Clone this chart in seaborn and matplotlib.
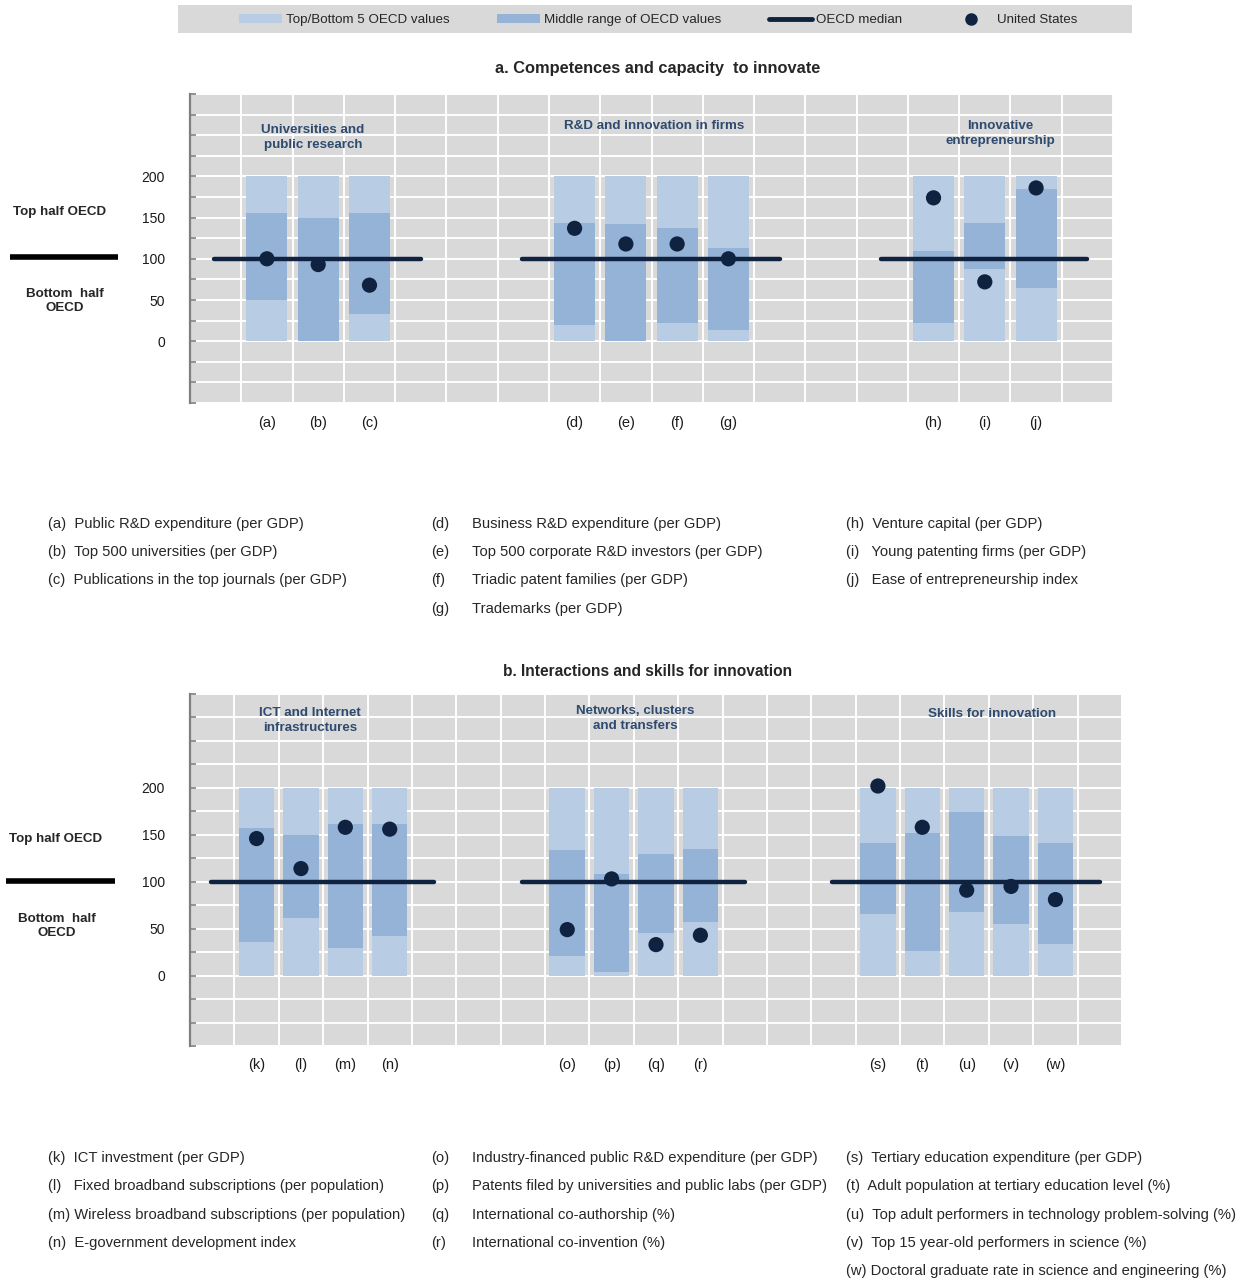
import numpy as np
import pandas as pd
import matplotlib
matplotlib.use("Agg")
import matplotlib.pyplot as plt
import matplotlib.transforms as mtransforms
from matplotlib.patches import Patch, Rectangle
from matplotlib.lines import Line2D
import seaborn as sns

# ---------------- data ----------------
# Panel a: competences and capacity to innovate
codes_a = ["a", "b", "c", "d", "e", "f", "g", "h", "i", "j"]
group_sizes_a = [3, 4, 3]
group_titles_a = ["Universities and\npublic research",
                  "R&D and innovation in firms",
                  "Innovative\nentrepreneurship"]
mid_low_a = [50, 0, 33, 20, 0, 22, 13, 22, 88, 65]
mid_high_a = [156, 150, 156, 144, 142, 137, 113, 109, 144, 185]
us_a = [100, 93, 68, 137, 118, 118, 100, 174, 72, 186]

notes_a_col1 = ["(a)  Public R&D expenditure (per GDP)",
                "(b)  Top 500 universities (per GDP)",
                "(c)  Publications in the top journals (per GDP)"]
notes_a_col2_codes = ["(d)", "(e)", "(f)", "(g)"]
notes_a_col2 = ["Business R&D expenditure (per GDP)",
                "Top 500 corporate R&D investors (per GDP)",
                "Triadic patent families (per GDP)",
                "Trademarks (per GDP)"]
notes_a_col3 = ["(h)  Venture capital (per GDP)",
                "(i)   Young patenting firms (per GDP)",
                "(j)   Ease of entrepreneurship index"]

# Panel b: interactions and skills for innovation
codes_b = ["k", "l", "m", "n", "o", "p", "q", "r", "s", "t", "u", "v", "w"]
group_sizes_b = [4, 4, 5]
group_titles_b = ["ICT and Internet\ninfrastructures",
                  "Networks, clusters\nand transfers",
                  "Skills for innovation"]
mid_low_b = [36, 61, 29, 42, 21, 4, 45, 57, 66, 26, 68, 55, 34]
mid_high_b = [157, 150, 162, 162, 134, 108, 130, 135, 141, 152, 174, 149, 141]
us_b = [146, 114, 158, 156, 49, 103, 33, 43, 202, 158, 91, 95, 81]

notes_b_col1 = ["(k)  ICT investment (per GDP)",
                "(l)   Fixed broadband subscriptions (per population)",
                "(m) Wireless broadband subscriptions (per population)",
                "(n)  E-government development index"]
notes_b_col2_codes = ["(o)", "(p)", "(q)", "(r)"]
notes_b_col2 = ["Industry-financed public R&D expenditure (per GDP)",
                "Patents filed by universities and public labs (per GDP)",
                "International co-authorship (%)",
                "International co-invention (%)"]
notes_b_col3 = ["(s)  Tertiary education expenditure (per GDP)",
                "(t)  Adult population at tertiary education level (%)",
                "(u)  Top adult performers in technology problem-solving (%)",
                "(v)  Top 15 year-old performers in science (%)",
                "(w) Doctoral graduate rate in science and engineering (%)"]

RANGE_TOP = 200      # top of the OECD range (normalised)
OECD_MEDIAN = 100    # normalised OECD median
Y_TICK_LABELS = [0, 50, 100, 150, 200]

# ---------------- style ----------------
LIGHT = "#b8cce4"
MID = "#95b3d7"
NAVY = "#0f2341"
BG = "#d9d9d9"
TITLE_BLUE = "#2e4a6e"
NARROW = ["Liberation Sans Narrow", "Liberation Sans", "DejaVu Sans"]
REGULAR = ["Liberation Sans", "DejaVu Sans"]

sns.set_theme(style="darkgrid")
plt.rcParams["font.family"] = NARROW

W, H = 1250, 1280
fig = plt.figure(figsize=(W / 100, H / 100), dpi=100)


def fx(px):
    return px / W


def fy(py):
    return 1 - py / H


def positions(sizes, gap=3, start=1):
    """Column centres for grouped items, leaving empty columns between groups."""
    pos, col, spans = [], start, []
    for n in sizes:
        first = col
        for _ in range(n):
            pos.append(col + 0.5)
            col += 1
        spans.append((first + 0.5, col - 0.5))
        col += gap
    return pos, spans, col - gap + 1


def draw_panel(rect, codes, sizes, titles, lows, highs, us, title_xoff, title_y,
               side_y):
    ax = fig.add_axes(rect)
    pos, spans, ncols = positions(sizes)
    df = pd.DataFrame({"code": [f"({c})" for c in codes], "x": pos,
                       "low": lows, "high": highs, "us": us})
    ax.set_facecolor(BG)
    # full OECD range (top/bottom 5) and middle range
    ax.bar(df["x"], RANGE_TOP, width=0.8, color=LIGHT, zorder=2, linewidth=0)
    ax.bar(df["x"], df["high"] - df["low"], bottom=df["low"], width=0.8,
           color=MID, zorder=3, linewidth=0)
    # OECD median per group
    for (a, b) in spans:
        ax.hlines(OECD_MEDIAN, a - 1.03, b + 1.0, color=NAVY, lw=3.2,
                  capstyle="round", zorder=4)
    # United States
    sns.scatterplot(data=df, x="x", y="us", ax=ax, color=NAVY, s=120,
                    edgecolor="none", zorder=5, legend=False)
    ax.set_xlim(0, ncols)
    ax.set_ylim(-75, 300)
    ax.set_xticks(df["x"])
    ax.set_xticklabels(df["code"], fontsize=10.5, color="#1a1a1a")
    ax.set_xticks(np.arange(0, ncols + 1), minor=True)
    yt = np.arange(-75, 301, 25)
    ax.set_yticks(yt)
    ax.set_yticklabels([str(v) if v in Y_TICK_LABELS else "" for v in yt],
                       fontsize=10, color="#1a1a1a")
    ax.tick_params(axis="x", which="both", length=0, pad=9)
    ax.tick_params(axis="y", which="major", direction="in", length=4,
                   color="#7f7f7f", width=1.2, pad=18, left=True)
    ax.grid(False)
    ax.grid(True, axis="y", which="major", color="white", lw=1.4, zorder=0)
    ax.grid(True, axis="x", which="minor", color="white", lw=1.4, zorder=0)
    ax.set_axisbelow(True)
    for s in ["top", "right", "bottom"]:
        ax.spines[s].set_visible(False)
    ax.spines["left"].set_visible(True)
    ax.spines["left"].set_color("#7f7f7f")
    ax.spines["left"].set_linewidth(1.6)
    ax.set_xlabel("")
    ax.set_ylabel("")
    # group headings
    for (a, b), t, dx, ty in zip(spans, titles, title_xoff, title_y):
        ax.text((a + b) / 2 + dx, ty, t, ha="center", va="center",
                fontsize=9.6, fontweight="bold", color=TITLE_BLUE,
                linespacing=1.3, zorder=6)
    # top / bottom half markers on the left
    tr = mtransforms.blended_transform_factory(fig.transFigure, ax.transData)
    (x_top, y_top), (x0, x1, y_line), (x_bot, y_bot) = side_y
    ax.text(fx(x_top), y_top, "Top half OECD", transform=tr, ha="center",
            va="center", fontsize=9.6, fontweight="bold", clip_on=False)
    ax.add_line(Line2D([fx(x0), fx(x1)], [y_line, y_line], transform=tr,
                       color="black", lw=4, clip_on=False, solid_capstyle="butt"))
    ax.text(fx(x_bot), y_bot, "Bottom  half\nOECD", transform=tr, ha="center",
            va="center", fontsize=9.6, fontweight="bold", clip_on=False,
            linespacing=1.25)
    return ax


# ---------------- panel a ----------------
fig.text(fx(658), fy(69), "a. Competences and capacity  to innovate",
         ha="center", va="center", fontsize=11.8, fontweight="bold")
draw_panel([fx(190), fy(403), fx(923), 309 / H], codes_a, group_sizes_a,
           group_titles_a, mid_low_a, mid_high_a, us_a,
           title_xoff=[-0.1, 0.06, 0.3], title_y=[247, 261, 252],
           side_y=((60, 157), (10, 118, 102), (65, 49)))

# ---------------- panel b ----------------
fig.text(fx(648), fy(671), "b. Interactions and skills for innovation",
         ha="center", va="center", fontsize=11.2, fontweight="bold")
draw_panel([fx(190), fy(1046), fx(932), 352 / H], codes_b, group_sizes_b,
           group_titles_b, mid_low_b, mid_high_b, us_b,
           title_xoff=[-0.3, 0.04, 0.57], title_y=[272, 274, 279],
           side_y=((56, 146), (6, 115, 101), (57, 53)))

# ---------------- legend ----------------
fig.patches.append(Rectangle((fx(178), fy(33)), fx(954), 28 / H,
                             transform=fig.transFigure, facecolor=BG,
                             edgecolor="none", zorder=0))
handles = [Patch(facecolor=LIGHT, edgecolor="none"),
           Patch(facecolor=MID, edgecolor="none"),
           Line2D([0], [0], color=NAVY, lw=3.5),
           Line2D([0], [0], color=NAVY, lw=0, marker="o", markersize=8)]
labels = ["Top/Bottom 5 OECD values", "Middle range of OECD values",
          "OECD median", "United States"]
leg = fig.legend(handles, labels, loc="center",
                 bbox_to_anchor=(fx(658), fy(20)),
                 ncol=4, frameon=False, borderaxespad=0,
                 handlelength=3.2, handletextpad=0.3, columnspacing=3.6,
                 fontsize=9.6)

# ---------------- footnotes ----------------
FN = 10.6
rows_a = [524, 552, 580, 609]
for t, y in zip(notes_a_col1, rows_a):
    fig.text(fx(48), fy(y), t, ha="left", va="center", fontsize=FN, family=REGULAR)
for c, t, y in zip(notes_a_col2_codes, notes_a_col2, rows_a):
    fig.text(fx(431), fy(y), c, ha="left", va="center", fontsize=FN, family=REGULAR)
    fig.text(fx(472), fy(y), t, ha="left", va="center", fontsize=FN, family=REGULAR)
for t, y in zip(notes_a_col3, rows_a):
    fig.text(fx(846), fy(y), t, ha="left", va="center", fontsize=FN, family=REGULAR)

rows_b = [1158, 1186, 1215, 1243, 1271]
for t, y in zip(notes_b_col1, rows_b):
    fig.text(fx(48), fy(y), t, ha="left", va="center", fontsize=FN, family=REGULAR)
for c, t, y in zip(notes_b_col2_codes, notes_b_col2, rows_b):
    fig.text(fx(431), fy(y), c, ha="left", va="center", fontsize=FN, family=REGULAR)
    fig.text(fx(472), fy(y), t, ha="left", va="center", fontsize=FN, family=REGULAR)
for t, y in zip(notes_b_col3, rows_b):
    fig.text(fx(846), fy(y), t, ha="left", va="center", fontsize=FN, family=REGULAR)

fig.savefig("out.png", dpi=100, facecolor="white")
